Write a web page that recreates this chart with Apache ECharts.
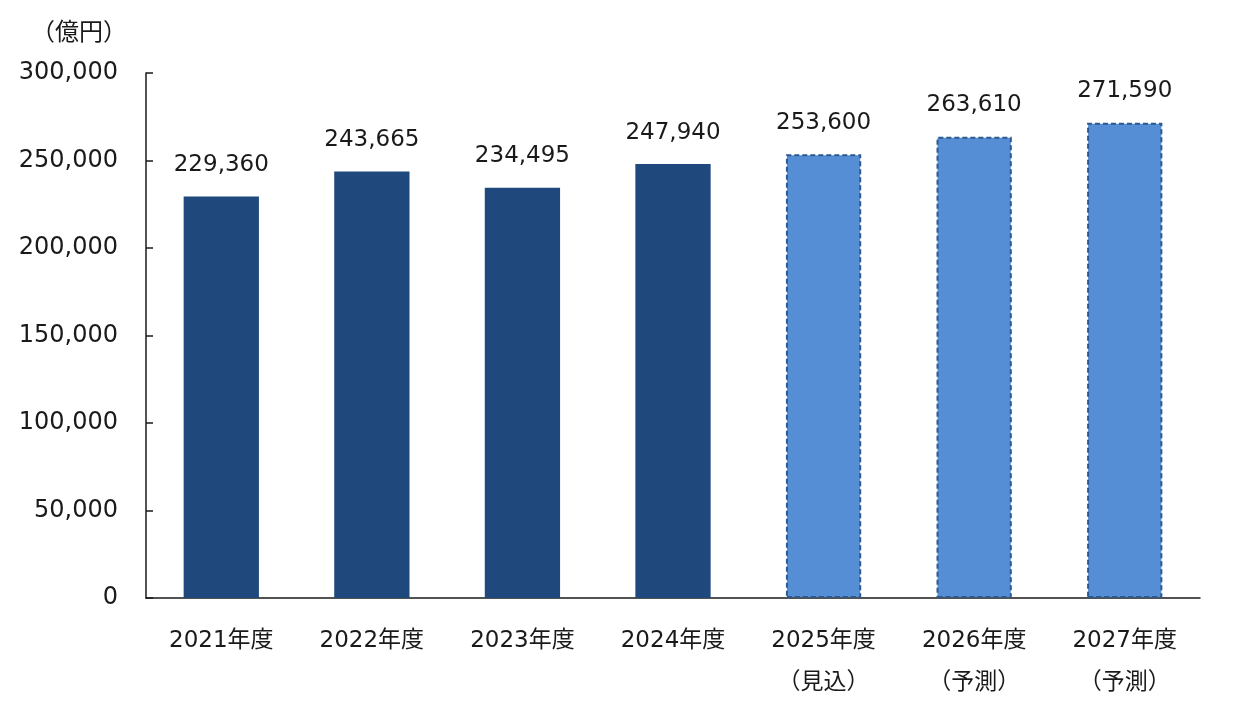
<!DOCTYPE html>
<html><head><meta charset="utf-8">
<script src="https://cdn.jsdelivr.net/npm/echarts@6/dist/echarts.min.js"></script>
<style>html,body{margin:0;padding:0;background:#fff}#c{width:1240px;height:705px}</style>
</head><body><div id="c"></div>
<script>
const categories = ['2021年度','2022年度','2023年度','2024年度','2025年度\n（見込）','2026年度\n（予測）','2027年度\n（予測）'];
const values = [229360, 243665, 234495, 247940, 253600, 263610, 271590];
const isForecast = [false, false, false, false, true, true, true];
const yTicks = {min: 0, max: 300000, interval: 50000};
const unitLabel = '（億円）';

const font = '"DejaVu Sans", "Noto Sans CJK JP", sans-serif';
const chart = echarts.init(document.getElementById('c'));
chart.setOption({
  animation: false,
  graphic: [{
    type: 'text', x: 127, y: 31,
    style: {text: unitLabel, fontFamily: '"Noto Sans CJK JP", sans-serif', fontSize: 24, fill: '#1a1a1a',
      align: 'right', verticalAlign: 'middle'}
  }],
  grid: {left: 146, right: 40, top: 73, bottom: 107},
  xAxis: {
    type: 'category', data: categories,
    axisLine: {lineStyle: {color: '#1a1a1a', width: 1.5}},
    axisTick: {show: false},
    axisLabel: {fontFamily: font, fontSize: 23, color: '#1a1a1a', margin: 22, lineHeight: 42}
  },
  yAxis: {
    type: 'value', min: yTicks.min, max: yTicks.max, interval: yTicks.interval,
    axisLine: {show: true, lineStyle: {color: '#1a1a1a', width: 1.5}},
    axisTick: {show: true, inside: true, length: 7, lineStyle: {color: '#1a1a1a', width: 1.5}},
    splitLine: {show: false},
    axisLabel: {fontFamily: font, fontSize: 24, color: '#1a1a1a', margin: 28,
      formatter: v => v.toLocaleString('en-US')}
  },
  series: [{
    type: 'bar', barWidth: '50%',
    data: values.map((v, i) => ({
      value: v,
      itemStyle: isForecast[i]
        ? {color: '#558ed5', borderColor: '#2b5a90', borderWidth: 2, borderType: [5, 3]}
        : {color: '#1f497d'}
    })),
    label: {show: true, position: 'top', distance: 20, fontFamily: font, fontSize: 23, color: '#1a1a1a',
      formatter: p => p.value.toLocaleString('en-US')}
  }]
});
</script></body></html>
